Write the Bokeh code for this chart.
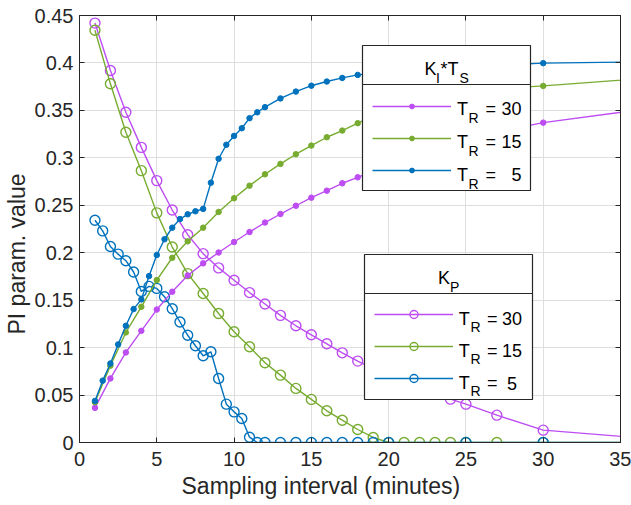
from bokeh.plotting import figure
from bokeh.models import (Range1d, LinearAxis, FixedTicker, Legend, LegendItem,
                          Label, BoxAnnotation, CustomJSTickFormatter, Title)
from bokeh.core.properties import value
from bokeh.embed import file_html
from bokeh.resources import INLINE

# ---------------- data ----------------
x_fine = [1, 1.5, 2, 2.5, 3, 3.5, 4, 4.5, 5, 5.5, 6, 6.5, 7, 7.5, 8, 8.5, 9, 9.5,
          10, 10.5, 11, 11.5, 12, 13, 14, 15, 16, 17, 18, 19, 20, 25, 30, 40]
x_int = [1, 2, 3, 4, 5, 6, 7, 8, 9, 10, 11, 12, 13, 14, 15, 16, 17, 18, 19, 20,
         21, 22, 23, 24, 25, 27, 30, 40]

# K_I * T_S
ki_tr30 = [0.0365, 0.0675, 0.0949, 0.1177, 0.1401, 0.1589, 0.1760, 0.1888, 0.2002,
           0.2113, 0.2218, 0.2318, 0.2408, 0.2495, 0.2580, 0.2654, 0.2732, 0.2795,
           0.2861, 0.2924, 0.2984, 0.3041, 0.3093, 0.3142, 0.3188, 0.3272, 0.3371, 0.3590]
ki_tr15 = [0.0425, 0.0810, 0.1160, 0.1430, 0.1712, 0.1947, 0.2120, 0.2264, 0.2430,
           0.2574, 0.2707, 0.2827, 0.2936, 0.3038, 0.3129, 0.3217, 0.3287, 0.3365,
           0.3440, 0.3502, 0.3554, 0.3597, 0.3633, 0.3662, 0.3687, 0.3727, 0.3758, 0.3880]
ki_tr5 = [0.0438, 0.0652, 0.0833, 0.1034, 0.1230, 0.1406, 0.1508, 0.1754, 0.1976,
          0.2142, 0.2264, 0.2355, 0.2405, 0.2437, 0.2462, 0.2738, 0.2990, 0.3138,
          0.3231, 0.3312, 0.3418, 0.3480, 0.3534, 0.3626, 0.3698, 0.3760, 0.3804,
          0.3842, 0.3874, 0.3890, 0.3905, 0.3960, 0.3998, 0.4020]

# K_P
kp_tr30 = [0.4420, 0.3920, 0.3480, 0.3110, 0.2760, 0.2450, 0.2190, 0.1990, 0.1840,
           0.1710, 0.1580, 0.1460, 0.1340, 0.1230, 0.1135, 0.1040, 0.0945, 0.0858,
           0.0777, 0.0702, 0.0633, 0.0569, 0.0511, 0.0457, 0.0404, 0.0288, 0.0130, 0.0000]
kp_tr15 = [0.4344, 0.3780, 0.3270, 0.2865, 0.2420, 0.2060, 0.1780, 0.1570, 0.1360,
           0.1167, 0.1009, 0.0840, 0.0710, 0.0570, 0.0454, 0.0334, 0.0235, 0.0137,
           0.0053, 0.0, 0.0, 0.0, 0.0, 0.0, 0.0, 0.0, 0.0, 0.0]
kp_tr5 = [0.2342, 0.2230, 0.2065, 0.1985, 0.1916, 0.1797, 0.1592, 0.1645, 0.1624,
          0.1536, 0.1410, 0.1270, 0.1130, 0.1020, 0.0914, 0.0956, 0.0675, 0.0404,
          0.0323, 0.0253, 0.0056, 0.0, 0.0, 0.0, 0.0, 0.0, 0.0, 0.0, 0.0, 0.0, 0.0,
          0.0, 0.0, 0.0]

x_ticks = [0, 5, 10, 15, 20, 25, 30, 35]
x_tick_labels = ["0", "5", "10", "15", "20", "25", "30", "35"]
y_ticks = [0, 0.05, 0.1, 0.15, 0.2, 0.25, 0.3, 0.35, 0.4, 0.45]
y_tick_labels = ["0", "0.05", "0.1", "0.15", "0.2", "0.25", "0.3", "0.35", "0.4", "0.45"]

tr_labels = ["30", "15", "5"]

# ---------------- styles ----------------
PURPLE = "#BD4DF2"
GREEN = "#77AC30"
BLUE = "#0072BD"
colors = [PURPLE, GREEN, BLUE]
AX = "#262626"
FONT = "Liberation Sans"

p = figure(width=631, height=505, output_backend="svg", toolbar_location=None,
           x_range=Range1d(0, 35), y_range=Range1d(0, 0.45),
           min_border_left=79, min_border_right=11, min_border_top=15,
           min_border_bottom=63)
p.background_fill_color = "white"
p.border_fill_color = "white"
p.outline_line_color = AX
p.outline_line_width = 1

for ax, ticks, labels in ((p.xaxis[0], x_ticks, x_tick_labels),
                          (p.yaxis[0], y_ticks, y_tick_labels)):
    ax.ticker = FixedTicker(ticks=ticks)
    ax.major_label_overrides = dict(zip(ticks, labels))
    ax.major_tick_in = 5
    ax.major_tick_out = 0
    ax.minor_tick_line_color = None
    ax.axis_line_color = AX
    ax.major_tick_line_color = AX
    ax.major_label_text_font = FONT
    ax.major_label_text_font_size = "20px"
    ax.major_label_text_color = AX

p.xaxis.major_label_standoff = 9
p.yaxis.major_label_standoff = 6

# axis titles (placed off-centre as in the reference)
p.add_layout(Title(text="Sampling interval (minutes)", align="left", offset=102,
                   text_font=FONT, text_font_size="23px", text_font_style="normal",
                   text_color=AX, standoff=4), "below")
p.add_layout(Title(text="PI param. value", align="left", offset=108,
                   text_font=FONT, text_font_size="23px", text_font_style="normal",
                   text_color=AX, standoff=3), "left")

blank = CustomJSTickFormatter(code="return ''")
top_ax = LinearAxis(ticker=FixedTicker(ticks=x_ticks), formatter=blank,
                    major_tick_in=5, major_tick_out=0, minor_tick_line_color=None,
                    axis_line_color=AX, major_tick_line_color=AX,
                    major_label_standoff=0)
right_ax = LinearAxis(ticker=FixedTicker(ticks=y_ticks), formatter=blank,
                      major_tick_in=5, major_tick_out=0, minor_tick_line_color=None,
                      axis_line_color=AX, major_tick_line_color=AX,
                      major_label_standoff=0)
p.add_layout(top_ax, "above")
p.add_layout(right_ax, "right")

p.xgrid.ticker = FixedTicker(ticks=x_ticks)
p.ygrid.ticker = FixedTicker(ticks=y_ticks)
p.xgrid.grid_line_color = "#DEDEDE"
p.ygrid.grid_line_color = "#DEDEDE"

LW = 1.4
kp_series = [(x_int, kp_tr30), (x_int, kp_tr15), (x_fine, kp_tr5)]
ki_series = [(x_int, ki_tr30), (x_int, ki_tr15), (x_fine, ki_tr5)]

kp_items = []
for (xs, ys), c, t in zip(kp_series, colors, tr_labels):
    l = p.line(xs, ys, line_color=c, line_width=LW)
    s = p.scatter(xs, ys, marker="circle", size=10, line_color=c, line_width=1.4,
                  fill_color=None)
    kp_items.append(LegendItem(label=value(" "), renderers=[l, s]))

ki_items = []
for (xs, ys), c, t in zip(ki_series, colors, tr_labels):
    l = p.line(xs, ys, line_color=c, line_width=LW)
    s = p.scatter(xs, ys, marker="circle", size=5.5, line_color=c, fill_color=c)
    ki_items.append(LegendItem(label=value(" "), renderers=[l, s]))


def box(left, right, top, bottom):
    p.add_layout(BoxAnnotation(left=left, right=right, top=top, bottom=bottom,
                               left_units="canvas", right_units="canvas",
                               top_units="canvas", bottom_units="canvas",
                               fill_color="white", fill_alpha=1.0,
                               line_color=AX, line_width=1.2, line_alpha=1.0))


def txt(x, y, text, size, align="left"):
    p.add_layout(Label(x=x, y=y, x_units="canvas", y_units="canvas", text=text,
                       text_font=FONT, text_font_size=size, text_color="black",
                       text_align=align, text_baseline="alphabetic"))


# legend frames (title box + items box)
box(362, 530, 45, 84)
box(362, 530, 84, 190)
box(364, 532, 254, 293)
box(364, 532, 293, 399)

p.add_layout(Legend(items=ki_items, location=(293, 266), orientation="vertical",
                    glyph_width=79, glyph_height=12, label_height=12, label_width=0,
                    label_standoff=0, padding=0, margin=0, spacing=20,
                    border_line_color=None, background_fill_alpha=0,
                    label_text_font_size="1px"))
p.add_layout(Legend(items=kp_items, location=(295, 54), orientation="vertical",
                    glyph_width=79, glyph_height=20, label_height=20, label_width=0,
                    label_standoff=0, padding=0, margin=0, spacing=12,
                    border_line_color=None, background_fill_alpha=0,
                    label_text_font_size="1px"))

# legend titles
txt(424, 68, "K", "18px")
txt(435.5, 77, "I", "14px")
txt(440, 68, "*T", "18px")
txt(459, 77, "S", "14px")
txt(437.5, 277, "K", "18px")
txt(449.5, 286, "P", "14px")

# legend entry texts
for i, t in enumerate(tr_labels):
    yb = [108.3, 141, 174][i]
    txt(456.5, yb, "T", "18px")
    txt(468, yb + 9, "R", "14px")
    txt(485, yb, "=", "18px")
    txt(521, yb, t, "18px", "right")
for i, t in enumerate(tr_labels):
    yb = [318.3, 350, 382.7][i]
    txt(458.3, yb, "T", "18px")
    txt(470, yb + 8, "R", "14px")
    txt(486.5, yb, "=", "18px")
    txt(521.5 if t != "5" else 516.5, yb, t, "18px", "right")

open("out.html", "w").write(file_html(p, INLINE))
